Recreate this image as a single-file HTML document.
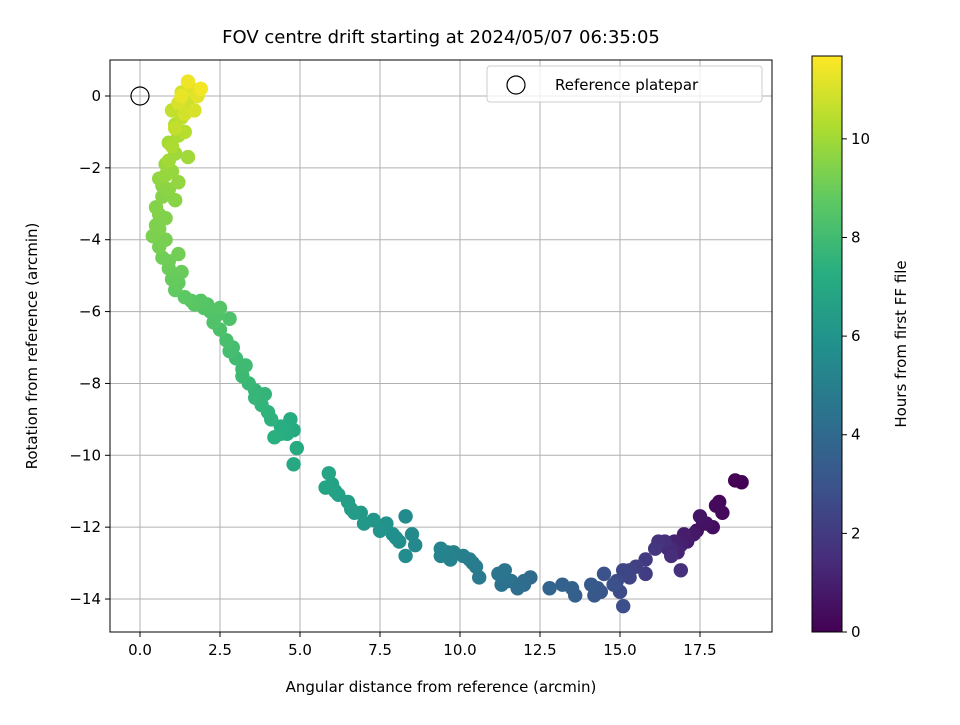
<!DOCTYPE html>
<html><head><meta charset="utf-8"><style>
body{margin:0;background:#fff;}
svg text{font-family:"DejaVu Sans","Liberation Sans",sans-serif;fill:#000;}
</style></head><body>
<svg id="chart" width="960" height="720" viewBox="0 0 960 720" xmlns="http://www.w3.org/2000/svg">
<defs>
<linearGradient id="vir" x1="0" y1="1" x2="0" y2="0">
<stop offset="0" stop-color="#440154"/><stop offset="0.125" stop-color="#472d7b"/><stop offset="0.25" stop-color="#3b528b"/><stop offset="0.375" stop-color="#2c728e"/><stop offset="0.5" stop-color="#21918c"/><stop offset="0.625" stop-color="#28ae80"/><stop offset="0.75" stop-color="#5ec962"/><stop offset="0.875" stop-color="#addc30"/><stop offset="1" stop-color="#fde725"/>
</linearGradient>
</defs>
<text x="441" y="43" font-size="18" text-anchor="middle">FOV centre drift starting at 2024/05/07 06:35:05</text>
<g id="grid"></g>
<g id="pts"></g>
<g id="axes"></g>
<rect x="110" y="60" width="662" height="572" fill="none" stroke="#000" stroke-width="1"/>
<text x="441" y="692" font-size="15" text-anchor="middle">Angular distance from reference (arcmin)</text>
<text transform="translate(37,346) rotate(-90)" font-size="15" text-anchor="middle">Rotation from reference (arcmin)</text>
<g>
<rect x="487" y="66" width="275" height="36" rx="3" fill="#fff" fill-opacity="0.8" stroke="#ccc"/>
<circle cx="516" cy="85" r="9" fill="none" stroke="#000" stroke-width="1.2"/>
<text x="555" y="90" font-size="15">Reference platepar</text>
</g>
<rect x="812" y="56" width="30" height="576" fill="url(#vir)" stroke="#000" stroke-width="1"/>
<g id="cbticks"></g>
<text transform="translate(906,344) rotate(-90)" font-size="15" text-anchor="middle">Hours from first FF file</text>
</svg>
<script>
const xs=[18.8,18.6,18.1,18.2,18.0,17.9,17.6,17.4,17.5,17.3,17.1,16.9,16.7,16.8,16.5,16.3,16.6,16.4,16.9,16.2,15.8,15.8,15.5,15.3,15.1,14.9,15.0,15.1,14.8,14.5,14.4,14.2,14.1,13.6,13.5,13.2,12.8,12.2,12.0,11.8,11.6,11.3,11.2,11.4,10.6,10.5,10.3,10.1,9.8,9.7,9.4,9.4,8.6,8.5,8.3,8.3,8.1,7.9,7.7,7.5,7.3,7.0,6.9,6.6,6.5,6.2,6.0,5.8,5.9,4.8,4.9,4.8,4.7,4.6,4.4,4.2,4.0,3.8,3.9,3.6,3.4,3.2,3.3,3.0,2.8,2.7,2.5,2.3,2.2,2.0,1.9,1.7,1.4,1.1,1.0,0.9,0.7,0.6,0.4,0.6,0.8,0.5,0.7,0.9,0.6,1.0,0.8,1.1,0.9,1.2,1.1,1.3,1.0,1.4,1.5,1.3,1.6,1.8,1.5,1.9,1.7,1.4,1.5,1.2,1.1,1.2,1.3,2.5,2.8,
1.3,1.2,1.4,1.1,1.0,0.9,0.8,0.7,0.6,0.5,0.8,0.9,1.2,1.6,2.1,2.4,2.9,3.2,3.6,4.1,4.4,6.1,6.7,7.6,8.0,9.6,10.4,11.5,12.0,14.3,15.3,16.1,16.6,17.0,17.7];
const ys=[-10.75,-10.7,-11.3,-11.6,-11.4,-12.0,-11.9,-12.1,-11.7,-12.2,-12.4,-12.5,-12.4,-12.7,-12.6,-12.5,-12.8,-12.4,-13.2,-12.4,-12.9,-13.3,-13.1,-13.4,-13.2,-13.5,-13.8,-14.2,-13.6,-13.3,-13.8,-13.9,-13.6,-13.9,-13.7,-13.6,-13.7,-13.4,-13.6,-13.7,-13.5,-13.6,-13.3,-13.2,-13.4,-13.1,-12.9,-12.8,-12.7,-12.9,-12.8,-12.6,-12.5,-12.2,-11.7,-12.8,-12.4,-12.2,-11.9,-12.1,-11.8,-11.9,-11.6,-11.5,-11.3,-11.1,-10.8,-10.9,-10.5,-10.25,-9.8,-9.3,-9.0,-9.4,-9.2,-9.5,-8.8,-8.6,-8.3,-8.4,-8.0,-7.8,-7.5,-7.3,-7.1,-6.8,-6.5,-6.3,-6.0,-5.9,-5.7,-5.8,-5.6,-5.4,-5.1,-4.8,-4.5,-4.2,-3.9,-3.7,-3.4,-3.1,-2.8,-2.6,-2.3,-2.1,-1.9,-1.6,-1.3,-1.1,-0.8,-0.6,-0.4,-0.3,-0.1,0.1,0.2,0.0,0.4,0.2,-0.4,-1.0,-1.7,-2.4,-2.9,-4.4,-4.9,-5.9,-6.2,
0.0,-0.2,-0.5,-0.9,-1.4,-1.8,-2.2,-2.5,-3.3,-3.6,-4.0,-4.6,-5.2,-5.7,-5.8,-6.1,-7.0,-7.6,-8.2,-9.0,-9.4,-11.0,-11.6,-12.0,-12.3,-12.7,-13.0,-13.5,-13.5,-13.7,-13.2,-12.6,-12.6,-12.2,-11.9];
const hours=[0,0.05,0.2,0.25,0.3,0.4,0.5,0.6,0.65,0.75,0.9,1.0,1.1,1.2,1.3,1.4,1.5,1.55,1.6,1.7,2.0,2.1,2.2,2.4,2.5,2.6,2.7,2.8,2.9,3.0,3.1,3.2,3.3,3.5,3.6,3.7,3.8,4.0,4.1,4.2,4.3,4.4,4.5,4.55,4.7,4.8,4.9,5.0,5.1,5.15,5.2,5.25,5.4,5.5,5.55,5.6,5.7,5.8,5.9,6.0,6.1,6.2,6.3,6.4,6.5,6.6,6.7,6.75,6.8,7.0,7.05,7.1,7.15,7.2,7.3,7.35,7.5,7.6,7.65,7.7,7.8,7.9,7.95,8.0,8.1,8.2,8.3,8.4,8.45,8.5,8.55,8.6,8.7,8.8,8.9,9.0,9.1,9.2,9.3,9.35,9.4,9.45,9.5,9.6,9.7,9.8,9.85,9.95,10.05,10.15,10.3,10.5,10.6,10.7,10.8,10.9,11.1,11.2,11.4,11.5,11.0,10.4,10.0,9.75,9.55,9.15,8.95,8.5,8.35,
11.3,11.0,10.9,10.6,10.2,10.0,9.8,9.6,9.4,9.35,9.25,9.05,8.85,8.65,8.5,8.4,8.1,7.9,7.7,7.45,7.3,6.65,6.35,5.95,5.75,5.15,4.85,4.35,4.1,3.15,2.35,1.8,1.4,0.95,0.55];
const xTicks=[0,2.5,5,7.5,10,12.5,15,17.5];
const yTicks=[0,-2,-4,-6,-8,-10,-12,-14];
const cTicks=[0,2,4,6,8,10];
const cMax=11.68;
const NS="http://www.w3.org/2000/svg";
const sx=v=>140+v*32, sy=v=>96-v*35.93, sc=v=>632-v/cMax*576;
const vir=[[68,1,84],[71,45,123],[59,82,139],[44,114,142],[33,145,140],[40,174,128],[94,201,98],[173,220,48],[253,231,37]];
function col(t){let f=Math.max(0,Math.min(1,t/cMax))*8,i=Math.min(7,Math.floor(f)),r=f-i;
return 'rgb('+vir[i].map((c,k)=>Math.round(c+(vir[i+1][k]-c)*r)).join(',')+')';}
function mk(tag,at,par){const e=document.createElementNS(NS,tag);for(const k in at)e.setAttribute(k,at[k]);par.appendChild(e);return e;}
const grid=document.getElementById('grid'),axes=document.getElementById('axes'),pts=document.getElementById('pts'),cb=document.getElementById('cbticks');
xTicks.forEach(v=>{const x=sx(v);
const g=mk('line',{x1:x,x2:x,y1:60,y2:632,stroke:'#b0b0b0','stroke-width':1},grid);


mk('line',{x1:x,x2:x,y1:632,y2:637,stroke:'#000'},axes);
const t=mk('text',{x:x,y:655,'font-size':15,'text-anchor':'middle'},axes);


t.textContent=v.toFixed(1);});
yTicks.forEach(v=>{const y=sy(v);
const g=mk('line',{x1:110,x2:772,y1:y,y2:y,stroke:'#b0b0b0','stroke-width':1},grid);


mk('line',{x1:105,x2:110,y1:y,y2:y,stroke:'#000'},axes);
const t=mk('text',{x:101,y:y+5,'font-size':15,'text-anchor':'end'},axes);


t.textContent=v<0?'\u2212'+(-v):String(v);});
const order=xs.map((_,i)=>i).sort((a,b)=>hours[a]-hours[b]);
order.forEach(i=>{const c=mk('circle',{cx:sx(xs[i]),cy:sy(ys[i]),r:7.2,fill:col(hours[i])},pts);

});
const ref=mk('circle',{cx:sx(0),cy:sy(0),r:9,fill:'none',stroke:'#000','stroke-width':1.2},pts);


cTicks.forEach(v=>{const y=sc(v);
mk('line',{x1:842,x2:847,y1:y,y2:y,stroke:'#000'},cb);
const t=mk('text',{x:851,y:y+5,'font-size':15},cb);


t.textContent=v;});
</script>
</body></html>
